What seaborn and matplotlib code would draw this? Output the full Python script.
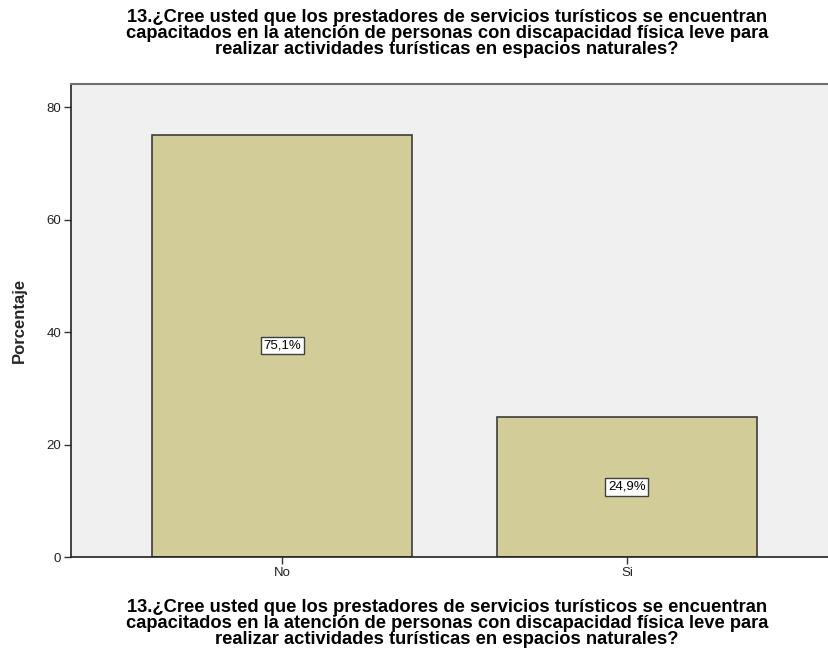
import matplotlib
matplotlib.use("Agg")
import matplotlib.pyplot as plt
import seaborn as sns
import pandas as pd

categories = ["No", "Si"]
percentages = [75.1, 24.9]
labels = ["75,1%", "24,9%"]
title = ("13.¿Cree usted que los prestadores de servicios turísticos se encuentran\n"
         "capacitados en la atención de personas con discapacidad física leve para\n"
         "realizar actividades turísticas en espacios naturales?")
yticks = [0, 20, 40, 60, 80]

sns.set_theme(style="white")
plt.rcParams['font.family'] = ['Liberation Sans', 'DejaVu Sans']

df = pd.DataFrame({"cat": categories, "pct": percentages})

fig = plt.figure(figsize=(8.29, 6.59), dpi=100)
ax = fig.add_axes([71/829, 102/659, 1 - 71/829, (557-84)/659])
ax.set_facecolor("#F0F0F0")

sns.barplot(data=df, x="cat", y="pct", color="#D2CD98", width=0.754,
            edgecolor="#3c3c3c", linewidth=1.2, saturation=1, ax=ax)

for i, (v, lab) in enumerate(zip(percentages, labels)):
    ax.text(i, v / 2, lab, ha="center", va="center", fontsize=9.5, color="black",
            bbox=dict(boxstyle="square,pad=0.2", facecolor="white", edgecolor="#404040", linewidth=1))

ax.set_xlim(-0.612, 1.586)
ax.set_ylim(0, 84.1)
ax.set_yticks(yticks)
ax.tick_params(axis="both", which="both", length=5, width=1, color="#333333",
               labelsize=9.5, labelcolor="#222222", left=True, bottom=True, pad=2)
ax.set_ylabel("Porcentaje", fontsize=12, fontweight="bold", labelpad=14)
ax.set_xlabel("")

for s in ["left", "bottom"]:
    ax.spines[s].set_color("#222222")
    ax.spines[s].set_linewidth(1.2)
ax.spines["top"].set_color("#707070")
ax.spines["top"].set_linewidth(1.5)
ax.spines["right"].set_visible(False)

fig.text(447/829, 1 - 9/659, title, ha="center", va="top", fontsize=13.2,
         fontweight="bold", linespacing=0.93, color="black")
fig.text(447/829, 1 - 599/659, title, ha="center", va="top", fontsize=13.2,
         fontweight="bold", linespacing=0.93, color="black")

fig.savefig("out.png", dpi=100, facecolor="white")
